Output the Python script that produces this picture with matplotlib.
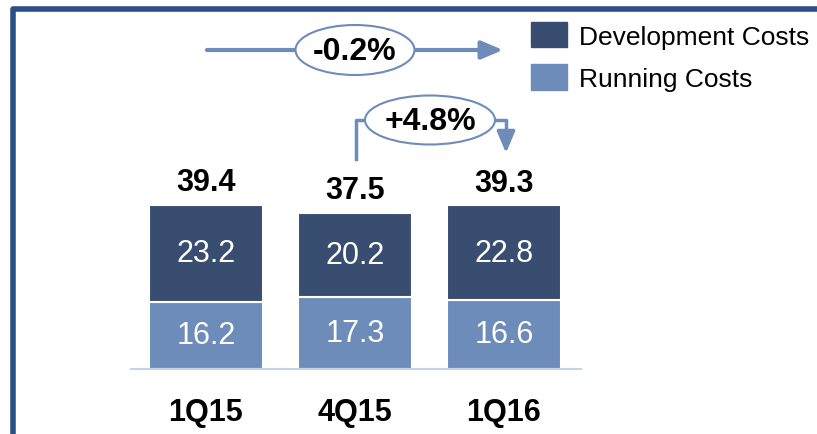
import matplotlib.pyplot as plt
from matplotlib.patches import Ellipse, Rectangle

plt.rcParams['font.family'] = ['Liberation Sans', 'DejaVu Sans']

quarters = ['1Q15', '4Q15', '1Q16']
running = [16.2, 17.3, 16.6]
development = [23.2, 20.2, 22.8]
totals = [39.4, 37.5, 39.3]
change_labels = ['-0.2%', '+4.8%']

dark = '#384d6f'
light = '#6d8cb9'
frame = '#2b4f86'

W, H = 817, 435
fig = plt.figure(figsize=(W / 100, H / 100), dpi=100)

# bar axes, placed in pixel terms
base_px = 370
ax = fig.add_axes([131 / W, (H - base_px) / H, 450 / W, base_px / H])
x = range(len(quarters))
ax.bar(x, running, width=0.765, color=light, edgecolor='white', linewidth=1.5)
ax.bar(x, development, bottom=running, width=0.765, color=dark,
       edgecolor='white', linewidth=1.5)
ax.set_xlim(-0.503, 2.517)
ax.set_ylim(0, base_px / 4.16)
for s in ['top', 'right', 'left']:
    ax.spines[s].set_visible(False)
ax.spines['bottom'].set_color('#c5d3e6')
ax.spines['bottom'].set_linewidth(1.5)
ax.set_yticks([])
ax.set_xticks(list(x))
ax.set_xticklabels(quarters, fontsize=22, fontweight='bold')
ax.tick_params(axis='x', length=0, pad=20.5)

for i in x:
    ax.text(i, running[i] / 2, f'{running[i]:.1f}', ha='center', va='center',
            color='white', fontsize=22)
    ax.text(i, running[i] + development[i] / 2, f'{development[i]:.1f}',
            ha='center', va='center', color='white', fontsize=22)
    ax.text(i, totals[i] + 1.9, f'{totals[i]:.1f}', ha='center',
            va='bottom', fontsize=22, fontweight='bold')

# overlay in pixel coordinates for frame, legend and arrows
ov = fig.add_axes([0, 0, 1, 1])
ov.set_xlim(0, W)
ov.set_ylim(H, 0)
ov.axis('off')

ov.plot([13, 13, W], [H, 10, 10], color=frame, lw=4, solid_capstyle='butt')

# legend
ov.add_patch(Rectangle((531, 23), 36, 25, color=dark))
ov.add_patch(Rectangle((531, 65), 36, 26, color=light))
ov.text(579, 38, 'Development Costs', va='center', fontsize=19)
ov.text(579, 80, 'Running Costs', va='center', fontsize=19)

arrow = dict(arrowstyle='-|>,head_length=1.3,head_width=0.55', color=light,
             shrinkA=0, shrinkB=0)

# -0.2% arrow
ov.annotate('', xy=(503, 51), xytext=(207, 51), arrowprops=dict(arrow, lw=3))
ov.add_patch(Ellipse((355, 51), 119, 50, facecolor='white', edgecolor=light,
                     lw=1.5, zorder=5))
ov.text(355, 52, change_labels[0], ha='center', va='center', fontsize=23,
        fontweight='bold', zorder=6)

# +4.8% arrow
ov.plot([356, 356, 506, 506], [160, 121, 121, 138], color=light, lw=2.5)
ov.annotate('', xy=(506, 154), xytext=(506, 132), arrowprops=dict(arrow, lw=2.5))
ov.add_patch(Ellipse((430, 121), 130, 49, facecolor='white', edgecolor=light,
                     lw=1.5, zorder=5))
ov.text(430, 122, change_labels[1], ha='center', va='center', fontsize=23,
        fontweight='bold', zorder=6)

fig.savefig('out.png', dpi=100)
